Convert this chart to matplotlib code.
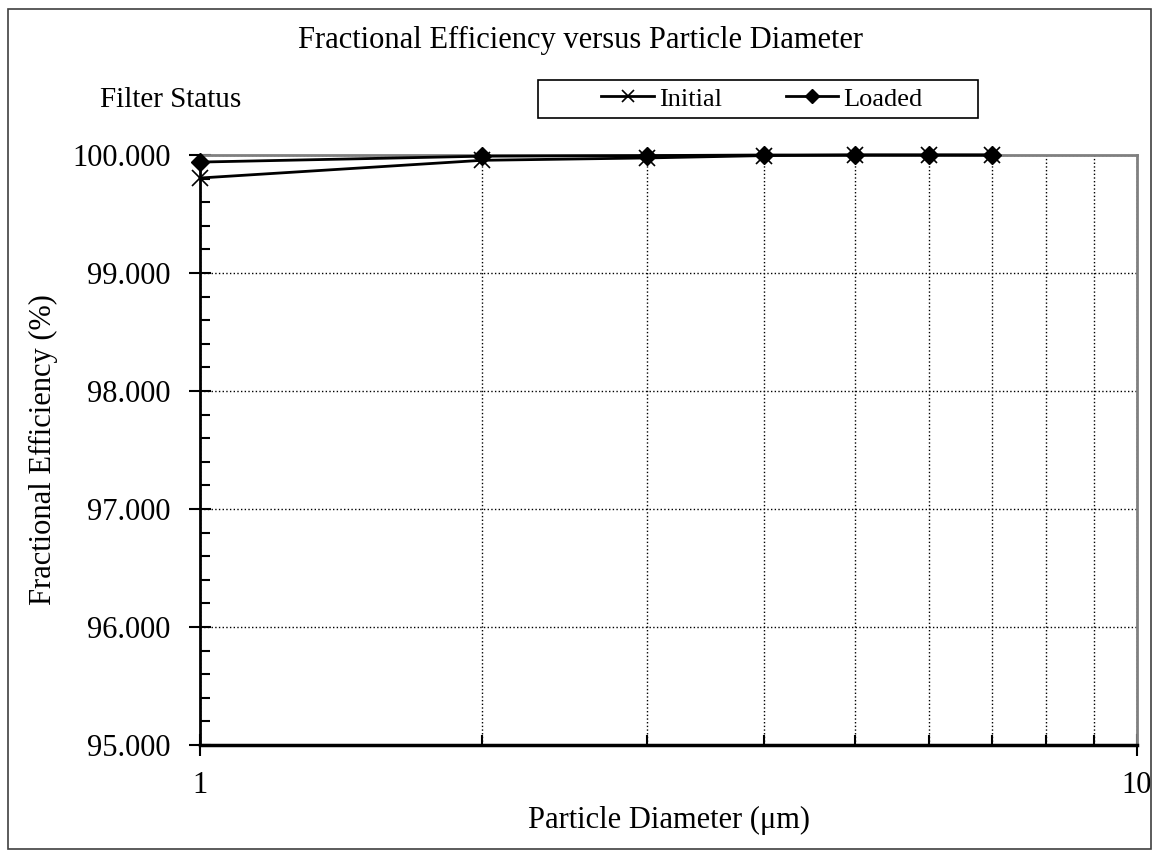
import numpy as np
import matplotlib.pyplot as plt
from matplotlib.ticker import FixedLocator, MultipleLocator, FormatStrFormatter, NullFormatter
from matplotlib.patches import Rectangle

plt.rcParams['font.family'] = ['Liberation Serif', 'DejaVu Serif']

diameter = [1, 2, 3, 4, 5, 6, 7]
initial = [99.805, 99.955, 99.975, 99.995, 100.0, 100.0, 100.0]
loaded = [99.94, 99.99, 99.995, 100.0, 100.0, 100.0, 100.0]

W, H = 1159, 857
fig = plt.figure(figsize=(W / 100, H / 100), dpi=100)
ax = fig.add_axes([200 / W, 1 - 745 / H, 937 / W, 590 / H])

ax.set_xscale('log')
ax.set_xlim(1, 10)
ax.set_ylim(95, 100)

ax.plot(diameter, initial, color='black', lw=2, marker='x', ms=12, mew=1.2,
        label='Initial', clip_on=False, zorder=4)
ax.plot(diameter, loaded, color='black', lw=2, marker='D', ms=9,
        label='Loaded', clip_on=False, zorder=5)

# ticks
ax.xaxis.set_major_locator(FixedLocator([1, 10]))
ax.xaxis.set_minor_locator(FixedLocator([2, 3, 4, 5, 6, 7, 8, 9]))
ax.xaxis.set_minor_formatter(NullFormatter())
ax.xaxis.set_major_formatter(FormatStrFormatter('%g'))
ax.yaxis.set_major_locator(MultipleLocator(1))
ax.yaxis.set_minor_locator(MultipleLocator(0.2))
ax.yaxis.set_major_formatter(FormatStrFormatter('%.3f'))

ax.tick_params(axis='both', which='major', direction='inout', length=16, width=1.5,
               labelsize=22, color='black')
ax.tick_params(axis='x', which='major', pad=11)
ax.tick_params(axis='y', which='major', pad=13)
ax.tick_params(axis='both', which='minor', direction='in', length=7, width=1.5, color='black')

ax.grid(True, axis='x', which='both', linestyle=':', color='black', lw=1)
ax.grid(True, axis='y', which='major', linestyle=':', color='black', lw=1)

for s in ['top', 'right']:
    ax.spines[s].set_color('#808080')
    ax.spines[s].set_linewidth(2)
ax.spines['left'].set_color('black')
ax.spines['left'].set_linewidth(2)
ax.spines['bottom'].set_color('black')
ax.spines['bottom'].set_linewidth(2.5)

ax.set_xlabel('Particle Diameter (\u03bcm)', fontsize=22, labelpad=4)
ax.set_ylabel('Fractional Efficiency (%)', fontsize=22, labelpad=10)

fig.text(580 / W, 1 - 40 / H, 'Fractional Efficiency versus Particle Diameter',
         ha='center', va='center', fontsize=22)
fig.text(100 / W, 1 - 100 / H, 'Filter Status', ha='left', va='center', fontsize=21)

leg = fig.legend(loc='center', bbox_to_anchor=(762 / W, 1 - 99 / H), ncol=2,
                 fontsize=19, frameon=False,
                 handlelength=2.0, handletextpad=0.2, columnspacing=2.4,
                 borderpad=0.2, markerscale=0.75)

# legend frame, wider than the entries
fig.patches.append(Rectangle((538 / W, 1 - 118 / H), 440 / W, 38 / H,
                             transform=fig.transFigure, fill=False,
                             edgecolor='black', lw=1.2))

# outer chart border
fig.patches.append(Rectangle((8 / W, 8 / H), 1143 / W, 840 / H,
                             transform=fig.transFigure, fill=False,
                             edgecolor='#404040', lw=1.2))

fig.savefig('out.png', dpi=100)
